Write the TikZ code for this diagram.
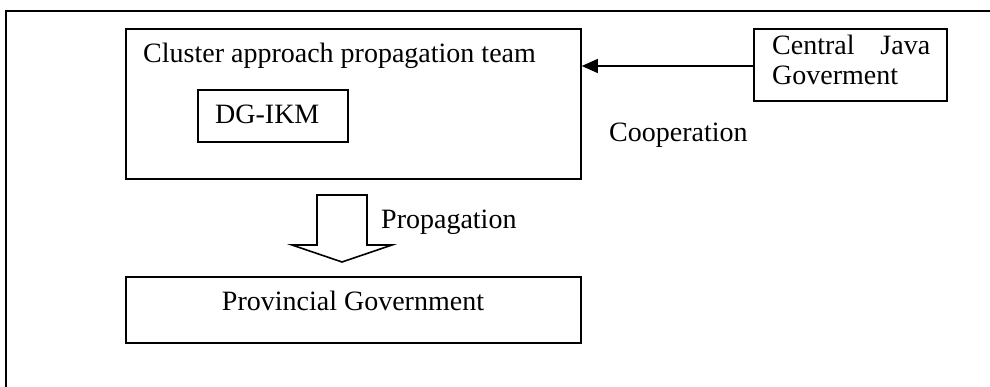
\documentclass[tikz,border=0pt]{standalone}
\usepackage{fontspec}
\setmainfont{Liberation Serif}
\usetikzlibrary{arrows.meta}
\begin{document}
\begin{tikzpicture}[x=1pt,y=-1pt,
  frame/.style={draw=black,line width=1.6pt},
  box/.style={frame,rectangle,inner sep=0pt},
  txt/.style={inner sep=0pt,font=\fontsize{28}{30}\selectfont},
  lbl/.style={txt,anchor=base west},
]
\useasboundingbox (0,0) rectangle (990,387);
% outer frame (only top and left edges fall inside the page)
\draw[line width=1.4pt] (6,400) -- (6,11) -- (1000,11);

% cluster team box with nested DG-IKM box
\node[box,minimum width=455pt,minimum height=150pt] (cluster) at (353.5,104) {};
\node[lbl] (clustertxt) at (143,63) {Cluster approach propagation team};
\node[box,minimum width=150pt,minimum height=52pt] (dg) at (273,116) {};
\node[lbl] (dgtxt) at (215,124) {DG-IKM};

% Central Java government box
\node[box,minimum width=193pt,minimum height=72pt] (java) at (850.5,65) {};
\node[txt,anchor=north west,align=left] (javatxt) at (772,35)
  {\makebox[158pt][s]{Central\hfill Java}\\Goverment};

% provincial government box
\node[box,minimum width=455pt,minimum height=66pt] (prov) at (353.5,310) {};
\node[txt,anchor=base] (provtxt) at (353,310) {Provincial Government};

% cooperation connector
\draw[line width=1.3pt,-{Triangle[length=16pt,width=14pt]}] (java.west |- 0,66) -- (cluster.east |- 0,66);
\node[lbl] (coop) at (609,142) {Cooperation};

% propagation block arrow
\coordinate (p) at (342,262);
\draw[frame,line join=miter] (317,195) -- (317,245) -- (292,245) -- (p) -- (392,245) -- (367,245) -- (367,195) -- cycle;
\node[lbl] (prop) at (381,229) {Propagation};
\end{tikzpicture}
\end{document}
